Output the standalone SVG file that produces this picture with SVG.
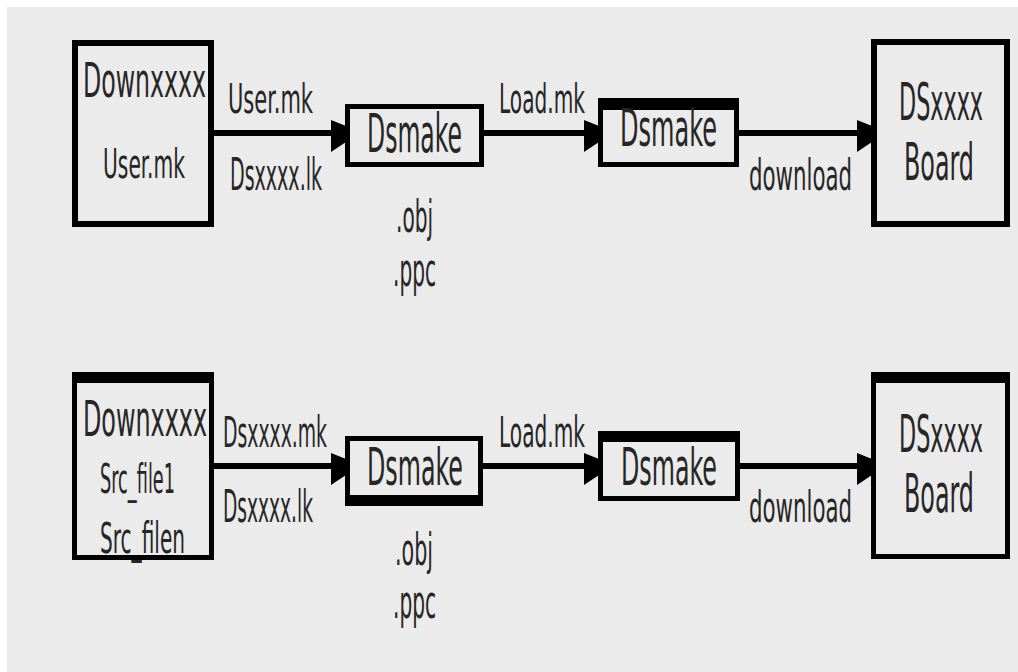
<svg xmlns="http://www.w3.org/2000/svg" xmlns:xlink="http://www.w3.org/1999/xlink" width="1018" height="672" viewBox="0 0 1018 672">
<style>
.box{fill:none;stroke:#000;}
.bar{fill:#000;}
.t{font-family:"DejaVu Sans Condensed","DejaVu Sans",sans-serif;font-stretch:condensed;fill:#262626;}
.ln{stroke:#000;stroke-width:6;fill:none;}
</style>
<defs>
<path id="ah" d="M-15,-13 L0,-7 L0,9 L-15,19 Z" fill="#000"/>
</defs>
<rect x="0" y="0" width="1018" height="672" fill="#fff"/>
<rect x="7" y="7" width="1011" height="665" fill="#ebebeb"/>

<g id="connectors">
<line class="ln" x1="214" y1="133" x2="334" y2="133"/>
<use xlink:href="#ah" href="#ah" transform="translate(346,133)"/>
<line class="ln" x1="484" y1="133" x2="586" y2="133"/>
<use xlink:href="#ah" href="#ah" transform="translate(599,133)"/>
<line class="ln" x1="739" y1="133" x2="860" y2="133"/>
<use xlink:href="#ah" href="#ah" transform="translate(872,133)"/>
<line class="ln" x1="214" y1="466" x2="334" y2="466"/>
<use xlink:href="#ah" href="#ah" transform="translate(346,466)"/>
<line class="ln" x1="483" y1="466" x2="586" y2="466"/>
<use xlink:href="#ah" href="#ah" transform="translate(599,466)"/>
<line class="ln" x1="740" y1="466" x2="860" y2="466"/>
<use xlink:href="#ah" href="#ah" transform="translate(872,466)"/>
<text class="t" x="228" y="113" font-size="41" textLength="85" lengthAdjust="spacingAndGlyphs">User.mk</text>
<text class="t" x="230" y="190" font-size="45" textLength="92" lengthAdjust="spacingAndGlyphs">Dsxxxx.lk</text>
<text class="t" x="396" y="232" font-size="44" textLength="37" lengthAdjust="spacingAndGlyphs">.obj</text>
<text class="t" x="393" y="286" font-size="47" textLength="43" lengthAdjust="spacingAndGlyphs">.ppc</text>
<text class="t" x="499" y="113" font-size="41" textLength="86" lengthAdjust="spacingAndGlyphs">Load.mk</text>
<text class="t" x="749" y="190" font-size="43" textLength="103" lengthAdjust="spacingAndGlyphs">download</text>
<text class="t" x="223" y="447" font-size="43" textLength="104" lengthAdjust="spacingAndGlyphs">Dsxxxx.mk</text>
<text class="t" x="223" y="522" font-size="44" textLength="90" lengthAdjust="spacingAndGlyphs">Dsxxxx.lk</text>
<text class="t" x="395" y="565" font-size="44" textLength="38" lengthAdjust="spacingAndGlyphs">.obj</text>
<text class="t" x="393" y="618" font-size="46" textLength="43" lengthAdjust="spacingAndGlyphs">.ppc</text>
<text class="t" x="499" y="447" font-size="43" textLength="86" lengthAdjust="spacingAndGlyphs">Load.mk</text>
<text class="t" x="749" y="522" font-size="43" textLength="103" lengthAdjust="spacingAndGlyphs">download</text>
</g>

<g id="downxxxx-top">
<rect class="box" x="75" y="43" width="136" height="181" stroke-width="6"/>
<text class="t" x="83" y="97" font-size="48" textLength="123" lengthAdjust="spacingAndGlyphs">Downxxxx</text>
<text class="t" x="103" y="178" font-size="41" textLength="82" lengthAdjust="spacingAndGlyphs">User.mk</text>
</g>
<g id="dsmake1-top">
<rect class="box" x="347.5" y="106.5" width="134" height="58" stroke-width="5"/>
<text class="t" x="367" y="152" font-size="53" textLength="95" lengthAdjust="spacingAndGlyphs">Dsmake</text>
</g>
<g id="dsmake2-top">
<rect class="box" x="600.5" y="100.5" width="136" height="64" stroke-width="5"/>
<rect class="bar" x="598" y="98" width="141" height="12"/>
<text class="t" x="620" y="146" font-size="52" textLength="97" lengthAdjust="spacingAndGlyphs">Dsmake</text>
</g>
<g id="board-top">
<rect class="box" x="874" y="42" width="133" height="182" stroke-width="6"/>
<text class="t" x="899" y="120" font-size="51" textLength="84" lengthAdjust="spacingAndGlyphs">DSxxxx</text>
<text class="t" x="904" y="180" font-size="52" textLength="70" lengthAdjust="spacingAndGlyphs">Board</text>
</g>

<g id="downxxxx-bottom">
<rect class="box" x="74.5" y="374.5" width="137" height="183" stroke-width="5"/>
<rect class="bar" x="72" y="372" width="142" height="11"/>
<text class="t" x="83" y="436" font-size="50" textLength="124" lengthAdjust="spacingAndGlyphs">Downxxxx</text>
<text class="t" x="100" y="493" font-size="40" textLength="75" lengthAdjust="spacingAndGlyphs">Src_file1</text>
<text class="t" x="100" y="553" font-size="43" textLength="85" lengthAdjust="spacingAndGlyphs">Src_filen</text>
</g>
<g id="dsmake1-bottom">
<rect class="box" x="347.5" y="438.5" width="133" height="65" stroke-width="5"/>
<rect class="bar" x="345" y="495" width="138" height="11"/>
<text class="t" x="367" y="485" font-size="52" textLength="96" lengthAdjust="spacingAndGlyphs">Dsmake</text>
</g>
<g id="dsmake2-bottom">
<rect class="box" x="600.5" y="433.5" width="137" height="65" stroke-width="5"/>
<rect class="bar" x="598" y="431" width="142" height="11"/>
<text class="t" x="621" y="485" font-size="52" textLength="96" lengthAdjust="spacingAndGlyphs">Dsmake</text>
</g>
<g id="board-bottom">
<rect class="box" x="873.5" y="374.5" width="134" height="182" stroke-width="5"/>
<rect class="bar" x="871" y="372" width="139" height="11"/>
<text class="t" x="899" y="452" font-size="51" textLength="84" lengthAdjust="spacingAndGlyphs">DSxxxx</text>
<text class="t" x="904" y="512" font-size="53" textLength="70" lengthAdjust="spacingAndGlyphs">Board</text>
</g>
</svg>
